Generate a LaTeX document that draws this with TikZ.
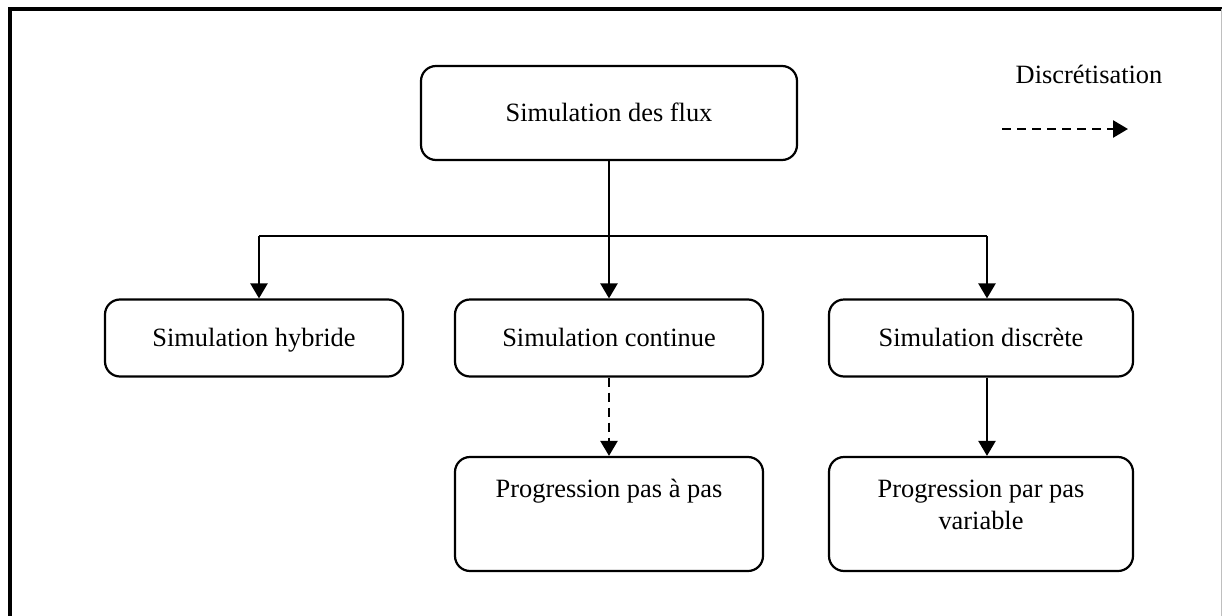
\documentclass[tikz,border=0pt]{standalone}
\usepackage{fontspec}
\setmainfont{Liberation Serif}
\usetikzlibrary{arrows.meta}
\begin{document}
\begin{tikzpicture}[x=0.5pt,y=-0.5pt,
  box/.style={draw,line width=1.1pt,rounded corners=7.5pt,align=center,inner sep=2pt,
    font=\fontsize{13.2}{16}\selectfont},
  one/.style={text height=9pt,text depth=1pt},
  conn/.style={line width=1.2pt},
  arr/.style={line width=1.2pt,-{Triangle[length=7.5pt,width=8.5pt]}},
  dsh/.style={dash pattern=on 4.5pt off 3pt}]
\useasboundingbox (0,0) rectangle (1222,616);
% frame
\draw[line width=2pt] (9.5,616) -- (9.5,8.5) -- (1222,8.5);
\draw[line width=0.5pt,black!25] (1221,8.5) -- (1221,616);
% nodes
\node[box,one,minimum width=188pt,minimum height=47pt] (top) at (609,113) {Simulation des flux};
\node[box,one,minimum width=149pt,minimum height=38.5pt] (hyb) at (254,338) {Simulation hybride};
\node[box,one,minimum width=154pt,minimum height=38.5pt] (cont) at (609,338) {Simulation continue};
\node[box,one,minimum width=152pt,minimum height=38.5pt] (disc) at (981,338) {Simulation discrète};
\node[box,minimum width=154pt,minimum height=57pt] (pp) at (609,514) {Progression pas à pas\\[10pt]};
\node[box,text depth=9pt,minimum width=152pt,minimum height=57pt] (pv) at (981,514) {Progression par pas\\variable};
\node[font=\fontsize{13.2}{16}\selectfont] (leg) at (1089,74) {Discrétisation};
% junction coordinates
\coordinate (j) at (609,236);
\coordinate (hl) at (259,236);
\coordinate (hr) at (987,236);
\coordinate (la) at (1002,129);
\coordinate (lb) at (1128,129);
% connectors
\draw[conn] (top.south) -- (j);
\draw[conn] (hl) -- (hr);
\draw[arr] (hl) -- (hl |- hyb.north);
\draw[arr] (j) -- (cont.north);
\draw[arr] (hr) -- (hr |- disc.north);
\draw[arr,dsh] (cont.south) -- (pp.north);
\draw[arr] (hr |- disc.south) -- (hr |- pv.north);
\draw[arr,dsh,line width=1.3pt] (la) -- (lb);
\end{tikzpicture}
\end{document}
